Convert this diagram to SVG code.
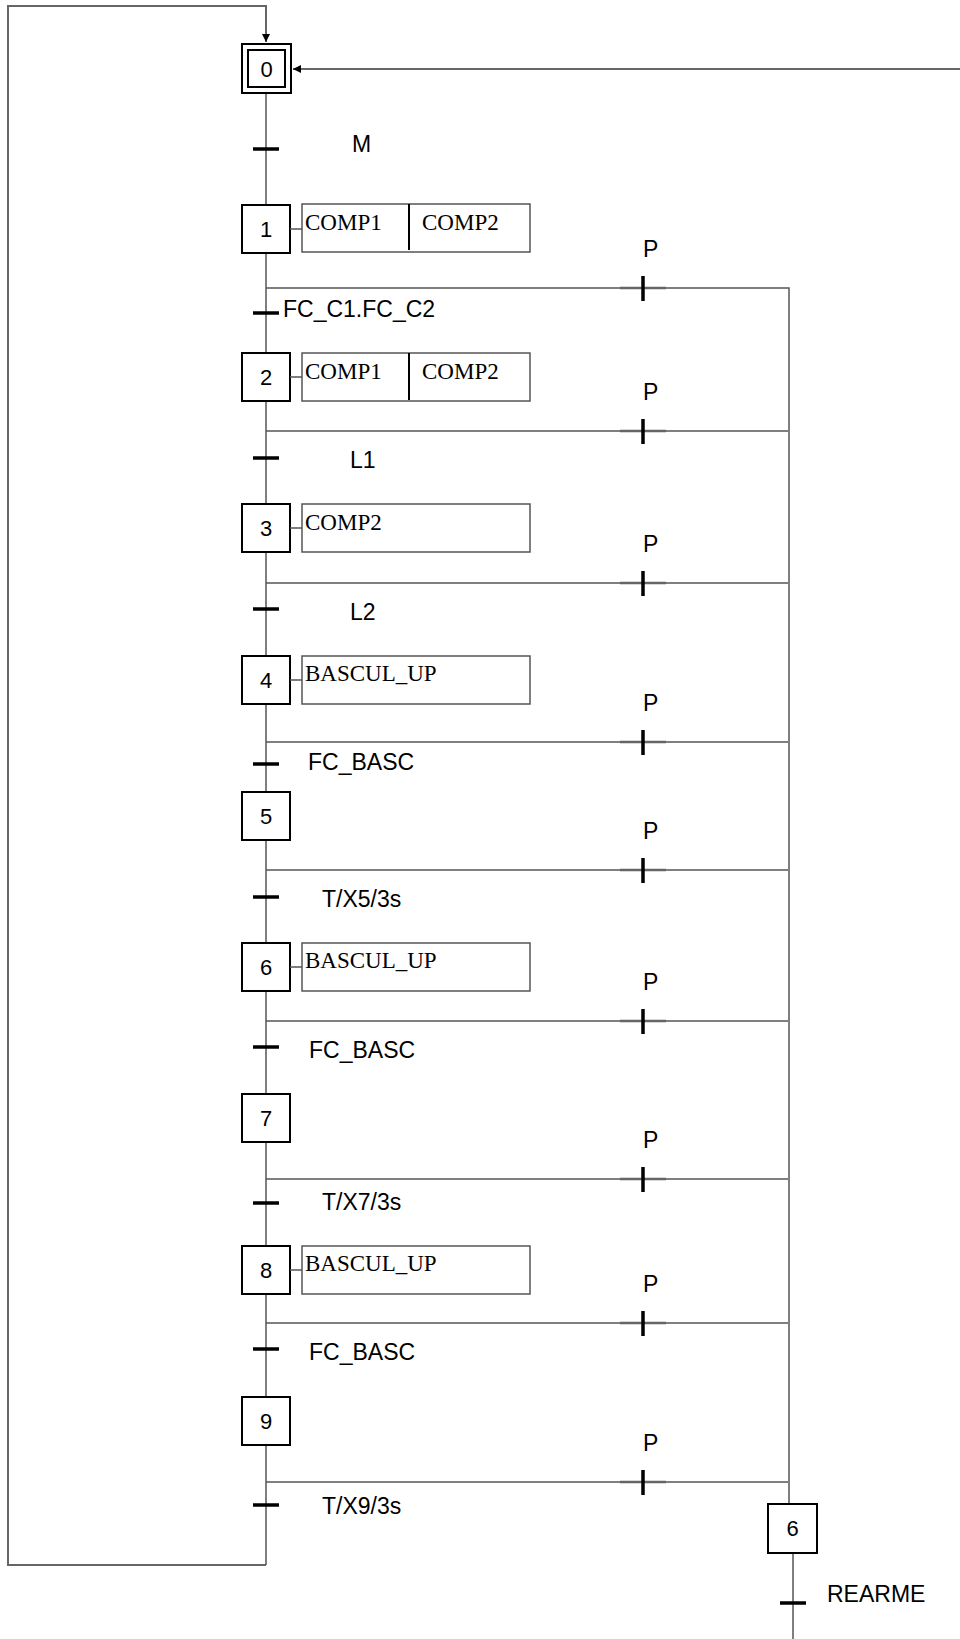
<svg xmlns="http://www.w3.org/2000/svg" width="960" height="1639" viewBox="0 0 960 1639">
<style>
.ln{fill:none;stroke:#555;stroke-width:1.5}
.lp{fill:none;stroke:#666;stroke-width:2}
.st{fill:#fff;stroke:#000;stroke-width:2}
.ac{fill:#fff;stroke:#555;stroke-width:1.5}
.tr{stroke:#000;stroke-width:3.5}
.pg{stroke:#666;stroke-width:2.5}
.n{font-family:"Liberation Sans",Arial,sans-serif;font-size:22px;fill:#000;text-anchor:middle}
.t{font-family:"Liberation Sans",Arial,sans-serif;font-size:23px;fill:#000}
.a{font-family:"Liberation Serif","Times New Roman",serif;font-size:23px;fill:#000}
</style>
<defs>
<marker id="ar" viewBox="0 0 10 10" refX="10" refY="5" markerWidth="8" markerHeight="8" markerUnits="userSpaceOnUse" orient="auto">
<path d="M0,0 L10,5 L0,10 z" fill="#000"/>
</marker>
</defs>
<g id="connectors">
<polyline class="lp" points="266,1565 8,1565 8,6 266,6 266,42" marker-end="url(#ar)"/>
<line class="lp" x1="960" y1="69" x2="293" y2="69" marker-end="url(#ar)"/>
<line class="ln" x1="266" y1="93" x2="266" y2="1565"/>
<polyline class="ln" points="266,288 789,288 789,1504"/>
<line class="ln" x1="266" y1="431" x2="788" y2="431"/>
<line class="ln" x1="266" y1="583" x2="788" y2="583"/>
<line class="ln" x1="266" y1="742" x2="788" y2="742"/>
<line class="ln" x1="266" y1="870" x2="788" y2="870"/>
<line class="ln" x1="266" y1="1021" x2="788" y2="1021"/>
<line class="ln" x1="266" y1="1179" x2="788" y2="1179"/>
<line class="ln" x1="266" y1="1323" x2="788" y2="1323"/>
<line class="ln" x1="266" y1="1482" x2="788" y2="1482"/>
<line class="ln" x1="793" y1="1553" x2="793" y2="1639"/>
<g id="transitions">
<line class="tr" x1="253" y1="149" x2="279" y2="149"/>
<line class="tr" x1="253" y1="313" x2="279" y2="313"/>
<line class="tr" x1="253" y1="458" x2="279" y2="458"/>
<line class="tr" x1="253" y1="609" x2="279" y2="609"/>
<line class="tr" x1="253" y1="764" x2="279" y2="764"/>
<line class="tr" x1="253" y1="897" x2="279" y2="897"/>
<line class="tr" x1="253" y1="1047" x2="279" y2="1047"/>
<line class="tr" x1="253" y1="1203" x2="279" y2="1203"/>
<line class="tr" x1="253" y1="1349" x2="279" y2="1349"/>
<line class="tr" x1="253" y1="1505" x2="279" y2="1505"/>
<line class="tr" x1="780" y1="1603" x2="806" y2="1603"/>
</g>
<g id="p-transitions">
<line class="pg" x1="620" y1="288" x2="666" y2="288"/><line class="tr" x1="643" y1="276" x2="643" y2="301"/>
<line class="pg" x1="620" y1="431" x2="666" y2="431"/><line class="tr" x1="643" y1="419" x2="643" y2="444"/>
<line class="pg" x1="620" y1="583" x2="666" y2="583"/><line class="tr" x1="643" y1="571" x2="643" y2="596"/>
<line class="pg" x1="620" y1="742" x2="666" y2="742"/><line class="tr" x1="643" y1="730" x2="643" y2="755"/>
<line class="pg" x1="620" y1="870" x2="666" y2="870"/><line class="tr" x1="643" y1="858" x2="643" y2="883"/>
<line class="pg" x1="620" y1="1021" x2="666" y2="1021"/><line class="tr" x1="643" y1="1009" x2="643" y2="1034"/>
<line class="pg" x1="620" y1="1179" x2="666" y2="1179"/><line class="tr" x1="643" y1="1167" x2="643" y2="1192"/>
<line class="pg" x1="620" y1="1323" x2="666" y2="1323"/><line class="tr" x1="643" y1="1311" x2="643" y2="1336"/>
<line class="pg" x1="620" y1="1482" x2="666" y2="1482"/><line class="tr" x1="643" y1="1470" x2="643" y2="1495"/>
</g>
</g>
<g id="labels">
<text class="t" x="352" y="152">M</text>
<text class="t" x="283" y="317">FC_C1.FC_C2</text>
<text class="t" x="350" y="468">L1</text>
<text class="t" x="350" y="620">L2</text>
<text class="t" x="308" y="770">FC_BASC</text>
<text class="t" x="322" y="907">T/X5/3s</text>
<text class="t" x="309" y="1058">FC_BASC</text>
<text class="t" x="322" y="1210">T/X7/3s</text>
<text class="t" x="309" y="1360">FC_BASC</text>
<text class="t" x="322" y="1514">T/X9/3s</text>
<text class="t" x="827" y="1602">REARME</text>
<text class="t" x="643" y="257">P</text>
<text class="t" x="643" y="400">P</text>
<text class="t" x="643" y="552">P</text>
<text class="t" x="643" y="711">P</text>
<text class="t" x="643" y="839">P</text>
<text class="t" x="643" y="990">P</text>
<text class="t" x="643" y="1148">P</text>
<text class="t" x="643" y="1292">P</text>
<text class="t" x="643" y="1451">P</text>
</g>
<g id="step0"><rect class="st" x="242" y="44" width="49" height="49"/><rect class="st" x="248" y="50" width="37" height="37"/><text class="n" x="266.5" y="77">0</text></g>
<g id="step1"><rect class="st" x="242" y="205" width="48" height="48"/><text class="n" x="266" y="237">1</text>
<line class="ln" x1="290" y1="229" x2="302" y2="229"/><rect class="ac" x="302" y="204" width="228" height="48"/><line stroke="#000" stroke-width="2" x1="409" y1="204" x2="409" y2="250"/>
<text class="a" x="305" y="230">COMP1</text><text class="a" x="422" y="230">COMP2</text></g>
<g id="step2"><rect class="st" x="242" y="353" width="48" height="48"/><text class="n" x="266" y="385">2</text>
<line class="ln" x1="290" y1="377" x2="302" y2="377"/><rect class="ac" x="302" y="353" width="228" height="48"/><line stroke="#000" stroke-width="2" x1="409" y1="353" x2="409" y2="400"/>
<text class="a" x="305" y="379">COMP1</text><text class="a" x="422" y="379">COMP2</text></g>
<g id="step3"><rect class="st" x="242" y="504" width="48" height="48"/><text class="n" x="266" y="536">3</text>
<line class="ln" x1="290" y1="528" x2="302" y2="528"/><rect class="ac" x="302" y="504" width="228" height="48"/>
<text class="a" x="305" y="530">COMP2</text></g>
<g id="step4"><rect class="st" x="242" y="656" width="48" height="48"/><text class="n" x="266" y="688">4</text>
<line class="ln" x1="290" y1="680" x2="302" y2="680"/><rect class="ac" x="302" y="656" width="228" height="48"/>
<text class="a" x="305" y="681">BASCUL_UP</text></g>
<g id="step5"><rect class="st" x="242" y="792" width="48" height="48"/><text class="n" x="266" y="824">5</text></g>
<g id="step6"><rect class="st" x="242" y="943" width="48" height="48"/><text class="n" x="266" y="975">6</text>
<line class="ln" x1="290" y1="967" x2="302" y2="967"/><rect class="ac" x="302" y="943" width="228" height="48"/>
<text class="a" x="305" y="968">BASCUL_UP</text></g>
<g id="step7"><rect class="st" x="242" y="1094" width="48" height="48"/><text class="n" x="266" y="1126">7</text></g>
<g id="step8"><rect class="st" x="242" y="1246" width="48" height="48"/><text class="n" x="266" y="1278">8</text>
<line class="ln" x1="290" y1="1270" x2="302" y2="1270"/><rect class="ac" x="302" y="1246" width="228" height="48"/>
<text class="a" x="305" y="1271">BASCUL_UP</text></g>
<g id="step9"><rect class="st" x="242" y="1397" width="48" height="48"/><text class="n" x="266" y="1429">9</text></g>
<g id="step6b"><rect class="st" x="768" y="1504" width="49" height="49"/><text class="n" x="792.5" y="1536">6</text></g>
</svg>
